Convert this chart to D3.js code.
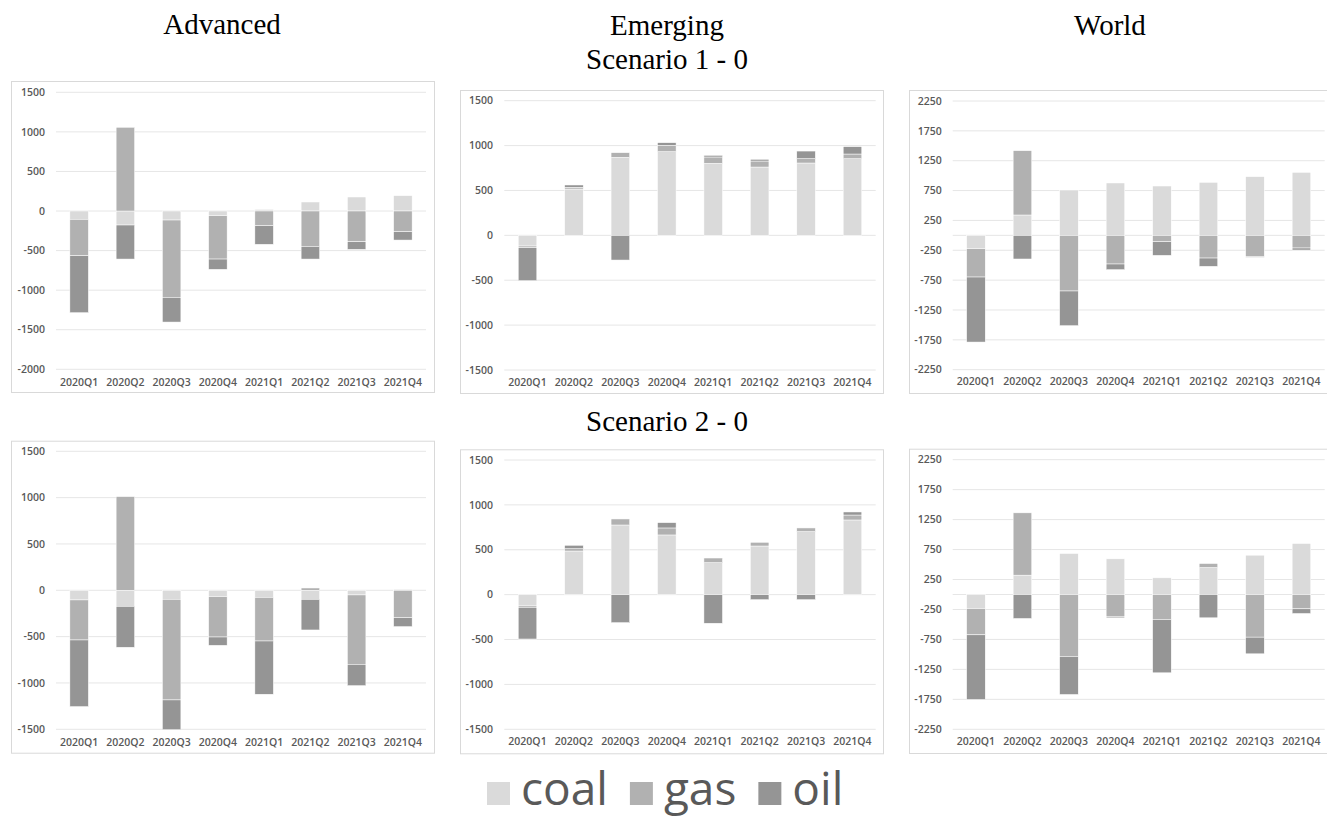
<!DOCTYPE html>
<html>
<head>
<meta charset="utf-8">
<script src="https://cdn.jsdelivr.net/npm/d3@7"></script>
<style>
body { margin: 0; background: #fff; }
svg { display: block; }
</style>
</head>
<body>
<svg width="1327" height="817"></svg>
<script>
var quarters = ["2020Q1", "2020Q2", "2020Q3", "2020Q4", "2021Q1", "2021Q2", "2021Q3", "2021Q4"];
var fuels = ["coal", "gas", "oil"];
var fuelColors = ["#dadada", "#b1b1b1", "#959595"];

// Scenario 1 - 0
var advS1Coal = [-105, -177, -114, -59, 21, 114, 177, 194];
var advS1Gas  = [-460, 1058, -977, -548, -185, -447, -388, -261];
var advS1Oil  = [-720, -430, -312, -130, -236, -160, -97, -106];
var emS1Coal  = [-119, 516, 869, 932, 802, 761, 806, 854];
var emS1Gas   = [-18, 19, 52, 71, 71, 67, 48, 52];
var emS1Oil   = [-368, 26, -275, 29, 18, 19, 85, 82];
var wS1Coal   = [-223, 341, 759, 877, 826, 888, 983, 1055];
var wS1Gas    = [-475, 1077, -932, -480, -106, -380, -357, -212];
var wS1Oil    = [-1089, -396, -581, -95, -229, -139, -10, -34];

// Scenario 2 - 0
var advS2Coal = [-104, -173, -97, -68, -76, -97, -50, 10];
var advS2Gas  = [-432, 1011, -1086, -436, -471, 25, -749, -295];
var advS2Oil  = [-719, -442, -330, -90, -575, -331, -230, -97];
var emS2Coal  = [-126, 486, 776, 665, 356, 542, 702, 832];
var emS2Gas   = [-15, 26, 67, 78, 52, 41, 41, 55];
var emS2Oil   = [-353, 38, -312, 59, -319, -56, -56, 34];
var wS2Coal   = [-234, 323, 684, 595, 278, 450, 656, 851];
var wS2Gas    = [-439, 1040, -1034, -367, -417, 67, -712, -239];
var wS2Oil    = [-1079, -400, -635, -22, -890, -389, -278, -78];

var ticksAdv1  = [1500, 1000, 500, 0, -500, -1000, -1500, -2000];
var ticks1500  = [1500, 1000, 500, 0, -500, -1000, -1500];
var ticksWorld = [2250, 1750, 1250, 750, 250, -250, -750, -1250, -1750, -2250];

var colTitles = ["Advanced", "Emerging", "World"];
var rowTitles = ["Scenario 1 - 0", "Scenario 2 - 0"];

var svg = d3.select("svg");

// frame: [x, y, w, h], plot: [left, right, top, bottom]
var panels = [
  {coal: advS1Coal, gas: advS1Gas, oil: advS1Oil, frame: [11, 81, 423, 311], plot: [56, 426, 92.3, 369.3], ticks: ticksAdv1, labelY: 382, tickX: 45, zero: false},
  {coal: emS1Coal, gas: emS1Gas, oil: emS1Oil, frame: [460, 90, 423, 303], plot: [504.3, 875.7, 100.7, 370], ticks: ticks1500, labelY: 382.7, tickX: 493, zero: false},
  {coal: wS1Coal, gas: wS1Gas, oil: wS1Oil, frame: [909, 90, 425, 303], plot: [952.7, 1324.7, 101, 369.7], ticks: ticksWorld, labelY: 381, tickX: 941.7, zero: true},
  {coal: advS2Coal, gas: advS2Gas, oil: advS2Oil, frame: [11, 440.7, 423, 312], plot: [56, 426, 451.3, 729.3], ticks: ticks1500, labelY: 742.3, tickX: 45, zero: false},
  {coal: emS2Coal, gas: emS2Gas, oil: emS2Oil, frame: [460, 449.3, 423, 304], plot: [504.3, 875.7, 460, 729.3], ticks: ticks1500, labelY: 741.7, tickX: 493, zero: false},
  {coal: wS2Coal, gas: wS2Gas, oil: wS2Oil, frame: [909, 448.7, 425, 304.3], plot: [952.7, 1324.7, 459.7, 729.3], ticks: ticksWorld, labelY: 741.3, tickX: 941.7, zero: true}
];

var stack = d3.stack().keys(fuels).offset(d3.stackOffsetDiverging);
var tickFont = "'Open Sans', sans-serif";

panels.forEach(function(p, pi) {
  var rows = quarters.map(function(q, i) {
    return {q: q, coal: p.coal[i], gas: p.gas[i], oil: p.oil[i]};
  });
  var series = stack(rows);

  var x = d3.scaleBand().domain(quarters).range([p.plot[0], p.plot[1]]);
  var y = d3.scaleLinear()
    .domain([d3.min(p.ticks), d3.max(p.ticks)])
    .range([p.plot[3], p.plot[2]]);

  var g = svg.append("g");

  g.append("rect")
    .attr("x", p.frame[0] + 0.5).attr("y", p.frame[1] + 0.5)
    .attr("width", p.frame[2]).attr("height", p.frame[3])
    .attr("fill", "#fff").attr("stroke", "#d9d9d9").attr("stroke-width", 1);

  g.selectAll(".grid").data(p.ticks).enter().append("line")
    .attr("x1", p.plot[0]).attr("x2", p.plot[1])
    .attr("y1", function(d) { return y(d); }).attr("y2", function(d) { return y(d); })
    .attr("stroke", "#e6e6e6").attr("stroke-width", 1);

  if (p.zero) {
    g.append("line")
      .attr("x1", p.plot[0]).attr("x2", p.plot[1])
      .attr("y1", y(0)).attr("y2", y(0))
      .attr("stroke", "#e6e6e6").attr("stroke-width", 1);
  }

  g.selectAll(".ytick").data(p.ticks).enter().append("text")
    .attr("x", p.tickX).attr("y", function(d) { return y(d); })
    .attr("dy", "0.35em")
    .attr("text-anchor", "end")
    .style("font-family", tickFont)
    .style("font-size", "10.5px").style("font-weight", 600)
    .attr("fill", "#595959")
    .text(function(d) { return d; });

  g.selectAll(".xtick").data(quarters).enter().append("text")
    .attr("x", function(d) { return x(d) + x.bandwidth() / 2; })
    .attr("y", p.labelY).attr("dy", "0.35em")
    .attr("text-anchor", "middle")
    .style("font-family", tickFont)
    .style("font-size", "10.5px").style("font-weight", 600)
    .attr("fill", "#595959")
    .text(function(d) { return d; });

  var clipId = "clip" + pi;
  svg.append("clipPath").attr("id", clipId).append("rect")
    .attr("x", p.plot[0]).attr("y", p.plot[2])
    .attr("width", p.plot[1] - p.plot[0]).attr("height", p.plot[3] - p.plot[2]);

  var barW = x.bandwidth() * 0.4;
  var bars = g.append("g").attr("clip-path", "url(#" + clipId + ")");
  bars.selectAll("g").data(series).enter().append("g")
    .attr("fill", function(d, i) { return fuelColors[i]; })
    .selectAll("rect").data(function(d) { return d; }).enter().append("rect")
    .attr("x", function(d) { return x(d.data.q) + (x.bandwidth() - barW) / 2; })
    .attr("width", barW)
    .attr("y", function(d) { return y(Math.max(d[0], d[1])); })
    .attr("height", function(d) { return Math.abs(y(d[0]) - y(d[1])); })
    .attr("stroke", "#fff").attr("stroke-width", 0.5);
});

// titles
var titleFont = "'Liberation Serif', 'Times New Roman', serif";
var colX = [222, 667, 1110];
svg.selectAll(".coltitle").data(colTitles).enter().append("text")
  .attr("x", function(d, i) { return colX[i]; })
  .attr("y", function(d, i) { return i === 0 ? 33.5 : 35; })
  .attr("text-anchor", "middle")
  .style("font-family", titleFont).style("font-size", "29px")
  .attr("fill", "#000")
  .text(function(d) { return d; });

var rowY = [68.5, 431];
svg.selectAll(".rowtitle").data(rowTitles).enter().append("text")
  .attr("x", 667).attr("y", function(d, i) { return rowY[i]; })
  .attr("text-anchor", "middle")
  .style("font-family", titleFont).style("font-size", "29px")
  .attr("fill", "#000")
  .text(function(d) { return d; });

// legend
var legend = svg.append("g");
var legX = 487, sq = 23, base = 805;
fuels.forEach(function(f, i) {
  legend.append("rect")
    .attr("x", legX).attr("y", base - sq).attr("width", sq).attr("height", sq)
    .attr("fill", fuelColors[i]);
  var t = legend.append("text")
    .attr("x", legX + sq + 11).attr("y", base)
    .style("font-family", "'Open Sans', sans-serif").style("font-size", "46px")
    .attr("fill", "#595959")
    .text(f);
  legX = legX + sq + 11 + t.node().getComputedTextLength() + 22;
});
</script>
</body>
</html>
